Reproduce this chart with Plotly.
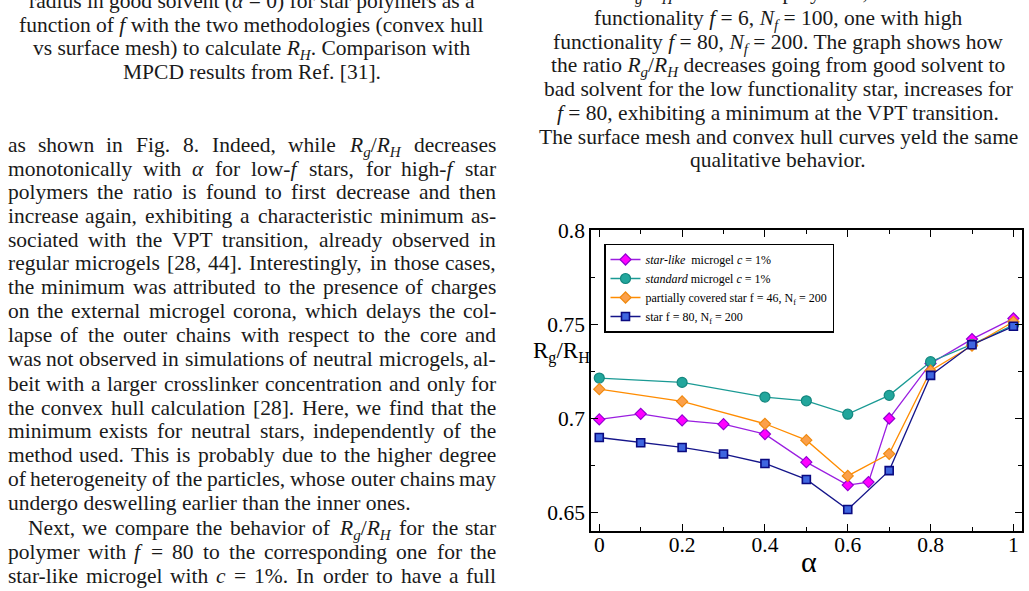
import re
import plotly.graph_objects as go

W, H = 1029, 591

# ---------------- data ----------------
starlike_alpha = [0, 0.1, 0.2, 0.3, 0.4, 0.5, 0.6, 0.65, 0.7, 0.8, 0.9, 1.0]
starlike_ratio = [0.6993, 0.7023, 0.6988, 0.6968, 0.6915, 0.6766, 0.6644, 0.6660, 0.6998, 0.7291, 0.7420, 0.7530]
standard_alpha = [0, 0.2, 0.4, 0.5, 0.6, 0.7, 0.8, 0.9, 1.0]
standard_ratio = [0.7213, 0.7190, 0.7112, 0.7092, 0.7021, 0.7121, 0.7300, 0.7392, 0.7495]
partial_alpha = [0, 0.2, 0.4, 0.5, 0.6, 0.7, 0.8, 0.9, 1.0]
partial_ratio = [0.7154, 0.7089, 0.6970, 0.6883, 0.6693, 0.6810, 0.7252, 0.7385, 0.7512]
star80_alpha = [0, 0.1, 0.2, 0.3, 0.4, 0.5, 0.6, 0.7, 0.8, 0.9, 1.0]
star80_ratio = [0.6897, 0.6869, 0.6844, 0.6809, 0.6759, 0.6674, 0.6514, 0.6721, 0.7227, 0.7390, 0.7488]

series_names = [
    "<i>star-like</i>  microgel <i>c</i> = 1%",
    "<i>standard</i> microgel <i>c</i> = 1%",
    "partially covered star f = 46, N<sub>f</sub> = 200",
    "star f = 80, N<sub>f</sub> = 200",
]

x_tickvals = [0, 0.2, 0.4, 0.6, 0.8, 1.0]
x_ticktext = ["0", "0.2", "0.4", "0.6", "0.8", "1"]
y_tickvals = [0.65, 0.70, 0.75, 0.80]
y_ticktext = ["0.65", "0.7", "0.75", "0.8"]

# ---------------- page text ----------------
RG_RH = "<i>R</i><sub><i>g</i></sub>/<i>R</i><sub><i>H</i></sub>"

left_caption = [
    "radius in good solvent (<i>α</i> = 0) for star polymers as a",
    "function of <i>f</i> with the two methodologies (convex hull",
    "vs surface mesh) to calculate <i>R</i><sub><i>H</i></sub>. Comparison with",
    "MPCD results from Ref. [31].",
]
left_caption_y = [1, 25, 48.5, 72]

body_lines = [
    "as shown in Fig. 8. Indeed, while " + RG_RH + " decreases",
    "monotonically with <i>α</i> for low-<i>f</i> stars, for high-<i>f</i> star",
    "polymers the ratio is found to first decrease and then",
    "increase again, exhibiting a characteristic minimum as-",
    "sociated with the VPT transition, already observed in",
    "regular microgels [28, 44]. Interestingly, in those cases,",
    "the minimum was attributed to the presence of charges",
    "on the external microgel corona, which delays the col-",
    "lapse of the outer chains with respect to the core and",
    "was not observed in simulations of neutral microgels, al-",
    "beit with a larger crosslinker concentration and only for",
    "the convex hull calculation [28]. Here, we find that the",
    "minimum exists for neutral stars, independently of the",
    "method used. This is probably due to the higher degree",
    "of heterogeneity of the particles, whose outer chains may",
    "undergo deswelling earlier than the inner ones.",
    "Next, we compare the behavior of " + RG_RH + " for the star",
    "polymer with <i>f</i> = 80 to the corresponding one for the",
    "star-like microgel with <i>c</i> = 1%. In order to have a full",
]
body_y = [145, 169.3, 192.7, 216, 240, 263.5, 287.3, 311.5, 335.5, 359.3,
          384, 408, 431.7, 455.7, 479.5, 503.5, 528, 552.5, 576.5]
body_left = [7] * 16 + [27, 7, 7]
body_justified = [True] * 15 + [False, True, True, True]

right_caption = [
    "Ratio " + RG_RH + " for two star polymers, one with low",
    "functionality <i>f</i> = 6, <i>N</i><sub><i>f</i></sub> = 100, one with high",
    "functionality <i>f</i> = 80, <i>N</i><sub><i>f</i></sub> = 200. The graph shows how",
    "the ratio " + RG_RH + " decreases going from good solvent to",
    "bad solvent for the low functionality star, increases for",
    "<i>f</i> = 80, exhibiting a minimum at the VPT transition.",
    "The surface mesh and convex hull curves yeld the same",
    "qualitative behavior.",
]
right_caption_y = [-7.5, 18.3, 42, 65.7, 89.3, 113, 137, 160.7]

TXT_FONT = "Liberation Serif"
TXT_SIZE = 21.5
TEXT_COLOR = "#1a1a1a"

# Times-like advance widths (em)
TW = {" ": .25, "!": .333, "(": .333, ")": .333, ",": .25, "-": .333, ".": .25, "/": .278,
      ":": .278, ";": .278, "=": .564, "%": .833, "[": .333, "]": .333, "α": .52}
for ch in "0123456789":
    TW[ch] = .5
TW.update(dict(zip("ABCDEFGHIJKLMNOPQRSTUVWXYZ",
                   [.722, .667, .667, .722, .611, .556, .722, .722, .333, .389, .722, .611, .889,
                    .722, .722, .556, .722, .667, .556, .611, .722, .722, .944, .722, .722, .611])))
TW.update(dict(zip("abcdefghijklmnopqrstuvwxyz",
                   [.444, .5, .444, .5, .444, .333, .5, .5, .278, .278, .5, .278, .778,
                    .5, .5, .5, .5, .333, .389, .278, .5, .5, .722, .5, .5, .444])))


def text_width(s, size):
    w = 0.0
    sub = False
    for tok in re.split(r"(<[^>]+>)", s):
        if tok.startswith("<"):
            if tok == "<sub>":
                sub = True
            elif tok == "</sub>":
                sub = False
            continue
        for ch in tok:
            w += TW.get(ch, .5) * (0.7 if sub else 1.0)
    return w * size


def px(xp):
    return xp / W


def py(yp):
    return 1 - yp / H


annotations = []


def add_text(text, x, yc, anchor, size=TXT_SIZE):
    annotations.append(dict(
        text=text, x=px(x), y=py(yc - 0.62 * size), xref="paper", yref="paper",
        xanchor=anchor, yanchor="top", showarrow=False,
        font=dict(family=TXT_FONT, size=size, color=TEXT_COLOR), borderpad=0))


for line, yc in zip(left_caption, left_caption_y):
    add_text(line, 251.5, yc, "center")
for line, yc in zip(right_caption, right_caption_y):
    add_text(line, 778, yc, "center")

RIGHT_EDGE = 497
for line, yc, x0, just in zip(body_lines, body_y, body_left, body_justified):
    if not just:
        add_text(line, x0, yc, "left")
        continue
    words = line.split()
    ws = [text_width(w, TXT_SIZE) for w in words]
    gap = (RIGHT_EDGE - x0 - sum(ws)) / (len(words) - 1)
    xc = x0
    for i, (w, wd) in enumerate(zip(words, ws)):
        if i == 0:
            add_text(w, x0, yc, "left")
        elif i == len(words) - 1:
            add_text(w, RIGHT_EDGE, yc, "right")
        else:
            add_text(w, xc + wd / 2, yc, "center")
        xc += wd + gap

# axis titles
annotations.append(dict(text="α", x=px(809), y=py(561), xref="paper", yref="paper",
                        xanchor="center", yanchor="middle", showarrow=False,
                        font=dict(family=TXT_FONT, size=30, color="black")))
annotations.append(dict(text="R<sub>g</sub>/R<sub>H</sub>", x=px(561), y=py(352), xref="paper", yref="paper",
                        xanchor="center", yanchor="middle", showarrow=False,
                        font=dict(family=TXT_FONT, size=23, color="black")))

# ---------------- chart ----------------
fig = go.Figure()
fig.add_trace(go.Scatter(
    x=starlike_alpha, y=starlike_ratio, mode="lines+markers", name=series_names[0],
    line=dict(color="#9a1ee0", width=1.3),
    marker=dict(symbol="diamond", size=8.5, color="#ff00ff", line=dict(color="#9400d3", width=1.2))))
fig.add_trace(go.Scatter(
    x=standard_alpha, y=standard_ratio, mode="lines+markers", name=series_names[1],
    line=dict(color="#1a9a94", width=1.3),
    marker=dict(symbol="circle", size=10, color="#22a69c", line=dict(color="#14877f", width=1.2))))
fig.add_trace(go.Scatter(
    x=partial_alpha, y=partial_ratio, mode="lines+markers", name=series_names[2],
    line=dict(color="#ff8c00", width=1.3),
    marker=dict(symbol="diamond", size=8.5, color="#fba04a", line=dict(color="#f08a10", width=1.2))))
fig.add_trace(go.Scatter(
    x=star80_alpha, y=star80_ratio, mode="lines+markers", name=series_names[3],
    line=dict(color="#15158a", width=1.3),
    marker=dict(symbol="square", size=8, color="#3f66e0", line=dict(color="#0a0a80", width=1.6))))

axis_common = dict(showline=True, linecolor="black", linewidth=1.6, mirror="ticks",
                   ticks="inside", ticklen=7, tickwidth=1.3, tickcolor="black",
                   showgrid=False, zeroline=False, automargin=False,
                   tickfont=dict(family=TXT_FONT, size=21.5, color="black"))

fig.update_layout(
    width=W, height=H,
    margin=dict(l=0, r=0, t=0, b=0, pad=0, autoexpand=False),
    paper_bgcolor="white", plot_bgcolor="white",
    showlegend=True,
    legend=dict(x=px(604), y=py(243.5), xanchor="left", yanchor="top",
                bgcolor="white", bordercolor="black", borderwidth=1.5,
                font=dict(family=TXT_FONT, size=12, color="black"),
                tracegroupgap=0, itemwidth=30),
    xaxis=dict(domain=[px(591), px(1021.7)], range=[-0.02, 1.02],
               tickvals=x_tickvals, ticktext=x_ticktext, ticklabelstandoff=-7,
               minor=dict(dtick=0.1, tick0=0, ticks="inside", ticklen=4, tickwidth=1.2,
                          tickcolor="black", showgrid=False),
               **axis_common),
    yaxis=dict(domain=[1 - 531 / H, 1 - 230 / H], range=[0.64, 0.80],
               tickvals=y_tickvals, ticktext=y_ticktext,
               minor=dict(dtick=0.025, tick0=0.65, ticks="inside", ticklen=4, tickwidth=1.2,
                          tickcolor="black", showgrid=False),
               **axis_common),
    annotations=annotations,
)

fig.write_html("out.html")
